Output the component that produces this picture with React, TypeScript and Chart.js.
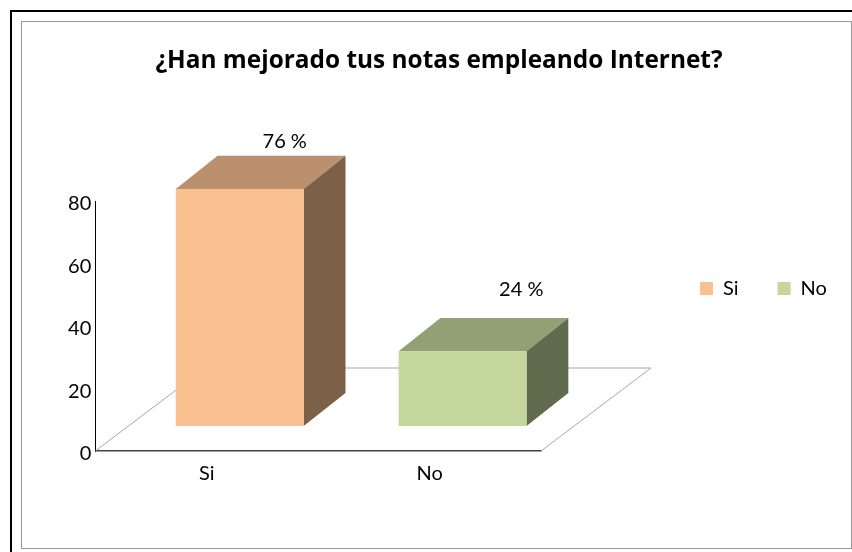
import React, { useEffect, useRef } from "react";
import { Chart, registerables } from "chart.js";

Chart.register(...registerables);

const categories = ["Si", "No"];
const values = [76, 24];
const percentLabels = ["76 %", "24 %"];
const yTicks = [0, 20, 40, 60, 80];
const frontColors = ["#FAC090", "#C3D69B"];
const topColors = ["#BB906C", "#92A074"];
const sideColors = ["#7D6048", "#616B4D"];

const ORIGIN = 22;
const FONT = "Lato, Carlito, sans-serif";
const TITLE_FONT = "'Open Sans', sans-serif";
const DEPTH_X = 110;
const DEPTH_Y = 83;
const BAR_SHIFT = 0.3;
const BAR_DEPTH_X = 0.38;
const BAR_DEPTH_Y = 0.4;
const LABEL_OFFSETS = [
  { x: 45, y: -14 },
  { x: 58.7, y: -28 },
];

const box3d = {
  id: "box3d",
  afterDatasetsUpdate(chart: any) {
    chart.getDatasetMeta(0).data.forEach((bar: any) => {
      bar.x += DEPTH_X * BAR_SHIFT;
      bar.y -= DEPTH_Y * BAR_SHIFT;
      bar.base -= DEPTH_Y * BAR_SHIFT;
    });
  },
  beforeDraw(chart: any) {
    const legend = chart.legend;
    const pad = legend.options.labels.padding;
    legend.left = 700 - ORIGIN - pad;
    legend.right = 2000;
    legend.top = 278.5 - ORIGIN - pad;
    legend.bottom = legend.top + 104;
    chart.titleBlock.left = 5;
    chart.titleBlock.right = chart.width;
    chart.titleBlock.width = chart.width - 5;
  },
  beforeDatasetsDraw(chart: any) {
    const { ctx, chartArea: a } = chart;
    ctx.save();
    ctx.strokeStyle = "#A6A6A6";
    ctx.lineWidth = 1;
    ctx.beginPath();
    ctx.moveTo(a.left, a.bottom);
    ctx.lineTo(a.left + DEPTH_X, a.bottom - DEPTH_Y);
    ctx.lineTo(a.right + DEPTH_X, a.bottom - DEPTH_Y);
    ctx.lineTo(a.right, a.bottom);
    ctx.stroke();

    const dx = DEPTH_X * BAR_DEPTH_X;
    const dy = DEPTH_Y * BAR_DEPTH_Y;
    chart.getDatasetMeta(0).data.forEach((bar: any, i: number) => {
      const l = bar.x - bar.width / 2;
      const r = bar.x + bar.width / 2;
      ctx.fillStyle = topColors[i];
      ctx.beginPath();
      ctx.moveTo(l, bar.y);
      ctx.lineTo(l + dx, bar.y - dy);
      ctx.lineTo(r + dx, bar.y - dy);
      ctx.lineTo(r, bar.y);
      ctx.closePath();
      ctx.fill();
      ctx.fillStyle = sideColors[i];
      ctx.beginPath();
      ctx.moveTo(r, bar.y);
      ctx.lineTo(r + dx, bar.y - dy);
      ctx.lineTo(r + dx, bar.base - dy);
      ctx.lineTo(r, bar.base);
      ctx.closePath();
      ctx.fill();
    });
    ctx.restore();
  },
  afterDatasetsDraw(chart: any) {
    const { ctx } = chart;
    const dy = DEPTH_Y * BAR_DEPTH_Y;
    ctx.save();
    ctx.fillStyle = "#000";
    ctx.font = `20px ${FONT}`;
    ctx.textAlign = "center";
    ctx.textBaseline = "middle";
    chart.getDatasetMeta(0).data.forEach((bar: any, i: number) => {
      ctx.fillText(percentLabels[i], bar.x + LABEL_OFFSETS[i].x, bar.y - dy + LABEL_OFFSETS[i].y);
    });
    ctx.restore();
  },
};

export default function App() {
  const ref = useRef<HTMLCanvasElement>(null);
  useEffect(() => {
    const chart = new Chart(ref.current!, {
      type: "bar",
      data: {
        labels: categories,
        datasets: [
          {
            data: values,
            backgroundColor: frontColors,
            borderWidth: 0,
            barPercentage: 0.574,
            categoryPercentage: 1,
            clip: false,
          },
        ],
      },
      plugins: [box3d],
      options: {
        animation: false,
        responsive: false,
        layout: { padding: { left: 0, right: 310, top: 0, bottom: 67 } },
        plugins: {
          tooltip: { enabled: false },
          title: {
            display: true,
            text: "¿Han mejorado tus notas empleando Internet?",
            color: "#000",
            font: { family: TITLE_FONT, size: 24.4, weight: "bold", lineHeight: 1.2 },
            padding: { top: 24.1, bottom: 57 },
          },
          legend: {
            display: true,
            position: "top",
            align: "start",
            labels: {
              boxWidth: 13,
              boxHeight: 13,
              padding: 39,
              color: "#000",
              font: { family: FONT, size: 20 },
              generateLabels: () =>
                categories.map((text, i) => ({
                  text,
                  fillStyle: frontColors[i],
                  strokeStyle: frontColors[i],
                  lineWidth: 0,
                  index: i,
                })),
            },
          },
        },
        scales: {
          x: {
            grid: { display: false, drawTicks: false },
            border: { color: "#404040", width: 1.5 },
            ticks: { color: "#000", font: { family: FONT, size: 20 }, padding: 11 },
            afterFit: (s: any) => {
              s.height = 30;
            },
          },
          y: {
            min: 0,
            max: 80,
            grid: { display: false, drawTicks: false },
            border: { color: "#000", width: 1 },
            afterBuildTicks: (s: any) => {
              s.ticks = yTicks.map((value) => ({ value }));
            },
            ticks: { color: "#000", font: { family: FONT, size: 20 }, padding: 4, labelOffset: 2.5 },
            afterFit: (s: any) => {
              s.width = 73.3;
            },
          },
        },
      } as any,
    });
    return () => chart.destroy();
  }, []);

  return (
    <div style={{ position: "fixed", inset: 0, background: "#fff", overflow: "hidden" }}>
      <div
        style={{
          position: "absolute",
          left: 10,
          top: 10,
          right: 0,
          bottom: 0,
          borderLeft: "2px solid #000",
          borderTop: "2px solid #000",
        }}
      />
      <div
        style={{
          position: "absolute",
          left: 21,
          top: 21,
          width: 829,
          height: 526,
          border: "1.5px solid #989898",
        }}
      />
      <canvas
        ref={ref}
        width={829}
        height={526}
        style={{ position: "absolute", left: ORIGIN, top: ORIGIN }}
      />
    </div>
  );
}
